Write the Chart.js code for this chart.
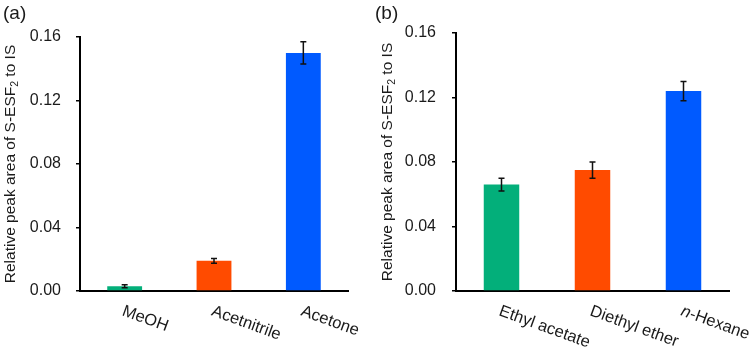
<!DOCTYPE html>
<html>
<head>
<meta charset="utf-8">
<script src="https://cdn.jsdelivr.net/npm/chart.js@4/dist/chart.umd.min.js"></script>
<style>
  html, body { margin: 0; padding: 0; background: #fff; }
  #wrap { position: relative; width: 750px; height: 355px; }
  canvas { position: absolute; top: 0; }
</style>
</head>
<body>
<div id="wrap">
  <canvas id="ca" width="375" height="355" style="left:0"></canvas>
  <canvas id="cb" width="375" height="355" style="left:375px"></canvas>
</div>
<script>
const categoriesA = ['MeOH', 'Acetnitrile', 'Acetone'];
const valuesA = [0.003, 0.019, 0.150];
const errorsA = [0.001, 0.0015, 0.007];

const categoriesB = ['Ethyl acetate', 'Diethyl ether', 'n-Hexane'];
const valuesB = [0.066, 0.075, 0.124];
const errorsB = [0.004, 0.005, 0.006];

const barColors = ['#03af7a', '#ff4b00', '#005aff'];
const yTicks = [0, 0.04, 0.08, 0.12, 0.16];

const FONT = '"Liberation Sans", Arial, Helvetica, sans-serif';

function makeChart(id, cats, vals, errs, panel, geom) {
  const errorPlugin = {
    id: 'errs' + id,
    afterDatasetsDraw(chart) {
      const ctx = chart.ctx;
      const ys = chart.scales.y;
      const meta = chart.getDatasetMeta(0);
      ctx.save();
      ctx.strokeStyle = '#111';
      ctx.lineWidth = 1.5;
      meta.data.forEach((bar, i) => {
        const x = bar.x;
        const t = ys.getPixelForValue(vals[i] + errs[i]);
        const b = ys.getPixelForValue(vals[i] - errs[i]);
        ctx.beginPath();
        ctx.moveTo(x, t); ctx.lineTo(x, b);
        ctx.moveTo(x - 3, t); ctx.lineTo(x + 3, t);
        ctx.moveTo(x - 3, b); ctx.lineTo(x + 3, b);
        ctx.stroke();
      });
      ctx.restore();
    },
    afterDraw(chart) {
      const ctx = chart.ctx;
      const xs = chart.scales.x;
      const area = chart.chartArea;
      ctx.save();
      ctx.fillStyle = '#1a1a1a';
      // panel label
      ctx.font = '19px ' + FONT;
      ctx.textBaseline = 'top';
      ctx.textAlign = 'left';
      ctx.fillText(panel, geom.panelX, 4);
      // rotated category labels
      cats.forEach((c, i) => {
        const x = xs.getPixelForTick(i);
        ctx.save();
        ctx.translate(x + 1, 303);
        ctx.rotate(20 * Math.PI / 180);
        ctx.textAlign = 'left';
        ctx.textBaseline = 'top';
        if (c.startsWith('n-')) {
          ctx.font = 'italic 16.5px ' + FONT;
          ctx.fillText('n', 0, 0);
          const w = ctx.measureText('n').width;
          ctx.font = '16.5px ' + FONT;
          ctx.fillText(c.slice(1), w, 0);
        } else {
          ctx.font = '16.5px ' + FONT;
          ctx.fillText(c, 0, 0);
        }
        ctx.restore();
      });
      // y-axis title with subscript
      const parts = [['Relative peak area of S-ESF', 15.5, 0], ['2', 10.5, 4], [' to IS', 15.5, 0]];
      let total = 0;
      parts.forEach(p => { ctx.font = p[1] + 'px ' + FONT; total += ctx.measureText(p[0]).width; });
      const cy = (area.top + area.bottom) / 2;
      ctx.save();
      ctx.translate(geom.titleX, cy);
      ctx.rotate(-Math.PI / 2);
      ctx.textAlign = 'left';
      ctx.textBaseline = 'middle';
      let pos = -total / 2;
      parts.forEach(p => {
        ctx.font = p[1] + 'px ' + FONT;
        ctx.fillText(p[0], pos, p[2]);
        pos += ctx.measureText(p[0]).width;
      });
      ctx.restore();
      ctx.restore();
    }
  };

  return new Chart(document.getElementById(id), {
    type: 'bar',
    data: {
      labels: cats,
      datasets: [{
        data: vals,
        backgroundColor: barColors,
        borderWidth: 0,
        barPercentage: 0.39,
        categoryPercentage: 1.0
      }]
    },
    options: {
      responsive: false,
      animation: false,
      events: [],
      layout: { padding: { left: 0, right: geom.right, top: geom.top, bottom: 0 } },
      plugins: { legend: { display: false }, tooltip: { enabled: false } },
      scales: {
        x: {
          grid: { display: false },
          border: { display: true, color: '#000', width: 2 },
          ticks: { display: false },
          afterFit(s) { s.height = 64; }
        },
        y: {
          min: 0,
          max: 0.16,
          afterBuildTicks(s) { s.ticks = yTicks.map(v => ({ value: v })); },
          grid: { drawOnChartArea: false, drawTicks: true, tickLength: 4, color: '#000', lineWidth: 1.5 },
          border: { display: true, color: '#000', width: 2 },
          ticks: {
            padding: geom.tickPad,
            color: '#1a1a1a',
            font: { family: FONT, size: 16 },
            callback: v => Number(v).toFixed(2)
          },
          afterFit(s) { s.width = geom.yWidth; }
        }
      }
    },
    plugins: [errorPlugin]
  });
}

makeChart('ca', categoriesA, valuesA, errorsA, '(a)', { yWidth: 80, right: 27, top: 37, tickPad: 15, titleX: 11, panelX: 3 });
makeChart('cb', categoriesB, valuesB, errorsB, '(b)', { yWidth: 81, right: 21, top: 33, tickPad: 16, titleX: 13, panelX: 0 });
</script>
</body>
</html>
